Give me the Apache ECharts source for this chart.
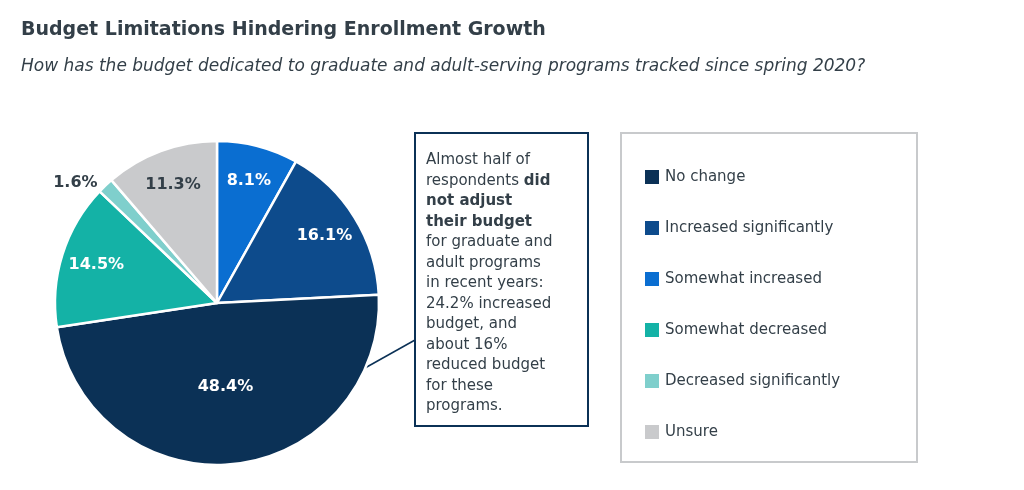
<!DOCTYPE html>
<html><head><meta charset="utf-8">
<script src="https://cdn.jsdelivr.net/npm/echarts@6/dist/echarts.min.js"></script>
<style>body{margin:0}#box{width:1024px;height:490px}</style>
</head><body><div id="box"></div>
<script>
var categories = ['No change', 'Increased significantly', 'Somewhat increased', 'Somewhat decreased', 'Decreased significantly', 'Unsure'];
var pieOrder = ['Somewhat increased', 'Increased significantly', 'No change', 'Somewhat decreased', 'Decreased significantly', 'Unsure'];
var pieValues = [8.1, 16.1, 48.4, 14.5, 1.6, 11.3];
var pieColors = ['#0a6ed1', '#0d4b8c', '#0b3156', '#14b2a6', '#7fcfcc', '#c9cacc'];
var labelColors = ['#fff', '#fff', '#fff', '#fff', '#333f48', '#333f48'];

var font = "'DejaVu Sans'";
var chart = echarts.init(document.getElementById('box'));

var solid = pieOrder.map(function (n, i) {
    return {
        name: n, value: pieValues[i], itemStyle: {color: pieColors[i]},
        label: {show: n === 'No change'}
    };
});
var ring = pieOrder.map(function (n, i) {
    var outside = n === 'Decreased significantly';
    return {
        name: n, value: pieValues[i],
        label: {show: n !== 'No change', position: outside ? 'outside' : 'inside', color: outside ? '#333f48' : labelColors[i]},
        labelLine: {show: false, length: 4, length2: 0}
    };
});

chart.setOption({
    textStyle: {fontFamily: font},
    title: {
        left: 16, top: 16,
        text: 'Budget Limitations Hindering Enrollment Growth',
        subtext: 'How has the budget dedicated to graduate and adult-serving programs tracked since spring 2020?',
        textStyle: {fontFamily: font, fontSize: 19, fontWeight: 'bold', color: '#333f48'},
        subtextStyle: {fontFamily: font, fontSize: 17, fontStyle: 'italic', color: '#333f48'},
        itemGap: 18
    },
    legend: {
        orient: 'vertical', left: 638, top: 163,
        data: categories, itemGap: 33, itemWidth: 16, itemHeight: 16,
        icon: 'rect', selectedMode: false,
        textStyle: {fontFamily: font, fontSize: 15, color: '#333f48'}
    },
    graphic: [
        {type: 'rect', shape: {x: 621, y: 133, width: 296, height: 329}, style: {fill: 'none', stroke: '#c8cacc', lineWidth: 2}},
        {type: 'rect', shape: {x: 415, y: 133, width: 173, height: 293}, style: {fill: '#fff', stroke: '#0b3156', lineWidth: 2}},
        {type: 'line', shape: {x1: 415, y1: 340, x2: 365, y2: 368}, style: {stroke: '#0b3156', lineWidth: 1.5}},
        {type: 'text', left: 426, top: 150, style: {
            text: 'Almost half of\nrespondents {b|did}\n{b|not adjust}\n{b|their budget}\nfor graduate and\nadult programs\nin recent years:\n24.2% increased\nbudget, and\nabout 16%\nreduced budget\nfor these\nprograms.',
            font: '15px ' + font, fill: '#333f48', lineHeight: 20.5,
            rich: {b: {fontWeight: 'bold', fontSize: 15, fontFamily: font, fill: '#333f48', lineHeight: 20.5}}
        }}
    ],
    series: [
        {
            type: 'pie', center: [217, 303], radius: [0, 162], startAngle: 90, clockwise: true,
            data: solid, silent: true,
            itemStyle: {borderColor: '#fff', borderWidth: 2.5},
            label: {position: 'inside', color: '#fff', fontSize: 16, fontWeight: 'bold', formatter: '{c}%'},
            labelLine: {show: false}
        },
        {
            type: 'pie', center: [217, 303], radius: [85, 162], startAngle: 90, clockwise: true,
            data: ring, silent: true,
            itemStyle: {color: 'rgba(0,0,0,0)'},
            label: {fontSize: 16, fontWeight: 'bold', formatter: '{c}%'}
        }
    ]
});
</script></body></html>
